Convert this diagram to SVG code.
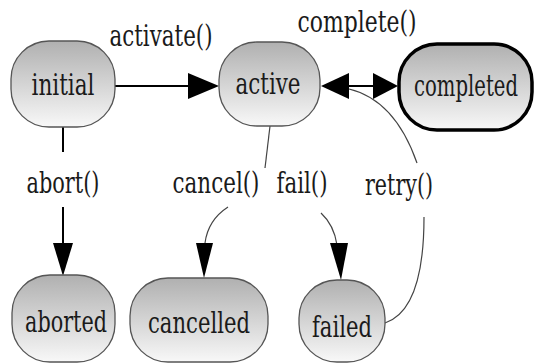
<svg xmlns="http://www.w3.org/2000/svg" width="539" height="364" viewBox="0 0 539 364">
<style>
.node{fill:url(#g);stroke:#555;stroke-width:1.3}
.final{fill:url(#g);stroke:#000;stroke-width:3.5}
.t{font-family:'DejaVu Serif',serif;font-size:26px;fill:#1a1a1a;text-anchor:middle}
.e{fill:none;stroke:#000;stroke-width:2}
.c{fill:none;stroke:#444;stroke-width:1.2}
.ah{fill:#000}
</style>
<defs>
<linearGradient id="g" x1="0" y1="0" x2="0" y2="1">
<stop offset="0" stop-color="#b0b0b0"/>
<stop offset="1" stop-color="#f8f8f8"/>
</linearGradient>
</defs>
<rect width="539" height="364" fill="#fff"/>
<g id="connectors">
<line class="e" x1="115" y1="86" x2="190" y2="86"/>
<polygon class="ah" points="219,86 188,73 188,99"/>
<line class="e" x1="63" y1="127" x2="63" y2="152"/>
<line class="e" x1="63" y1="207" x2="63" y2="245"/>
<polygon class="ah" points="63,276 53,243 73,243"/>
<line class="e" x1="348" y1="86" x2="375" y2="86"/>
<polygon class="ah" points="321,86 349,73 349,99"/>
<polygon class="ah" points="398,86 373,73 373,99"/>
<path class="c" d="M270,126 L265,168"/>
<path class="c" d="M228,207 Q208,220 205,243"/>
<polygon class="ah" points="204,278 196,243 213,243"/>
<path class="c" d="M321,213 Q334,225 337,245"/>
<polygon class="ah" points="341,280 330,243 348,243"/>
<path class="c" d="M385,323 Q424,310 424,217"/>
<path class="c" d="M417,163 Q395,100 349,89"/>
</g>
<g id="initial"><rect class="node" x="11" y="41" width="104" height="86" rx="38" ry="38"/><text class="t" transform="translate(63,95) scale(1,1.18)" textLength="63" lengthAdjust="spacingAndGlyphs">initial</text></g>
<g id="active"><rect class="node" x="219" y="42" width="101" height="84" rx="38" ry="38"/><text class="t" transform="translate(268,94) scale(1,1.18)" textLength="65" lengthAdjust="spacingAndGlyphs">active</text></g>
<g id="completed"><rect class="final" x="399" y="44" width="133" height="86" rx="38" ry="38"/><text class="t" transform="translate(466,96) scale(1,1.18)" textLength="104" lengthAdjust="spacingAndGlyphs">completed</text></g>
<g id="aborted"><rect class="node" x="12" y="275" width="103" height="87" rx="38" ry="38"/><text class="t" transform="translate(66,332) scale(1,1.18)" textLength="82" lengthAdjust="spacingAndGlyphs">aborted</text></g>
<g id="cancelled"><rect class="node" x="130" y="278" width="138" height="84" rx="38" ry="38"/><text class="t" transform="translate(199,333) scale(1,1.18)" textLength="102" lengthAdjust="spacingAndGlyphs">cancelled</text></g>
<g id="failed"><rect class="node" x="299" y="280" width="86" height="82" rx="38" ry="38"/><text class="t" transform="translate(342,337) scale(1,1.18)" textLength="60" lengthAdjust="spacingAndGlyphs">failed</text></g>
<g id="labels">
<text class="t" transform="translate(161,46) scale(1,1.18)" textLength="103" lengthAdjust="spacingAndGlyphs">activate()</text>
<text class="t" transform="translate(357,32) scale(1,1.18)" textLength="119" lengthAdjust="spacingAndGlyphs">complete()</text>
<text class="t" transform="translate(63,193) scale(1,1.18)" textLength="73" lengthAdjust="spacingAndGlyphs">abort()</text>
<text class="t" transform="translate(216,193) scale(1,1.18)" textLength="87" lengthAdjust="spacingAndGlyphs">cancel()</text>
<text class="t" transform="translate(302,193) scale(1,1.18)" textLength="51" lengthAdjust="spacingAndGlyphs">fail()</text>
<text class="t" transform="translate(399,195) scale(1,1.18)" textLength="68" lengthAdjust="spacingAndGlyphs">retry()</text>
</g>
</svg>
